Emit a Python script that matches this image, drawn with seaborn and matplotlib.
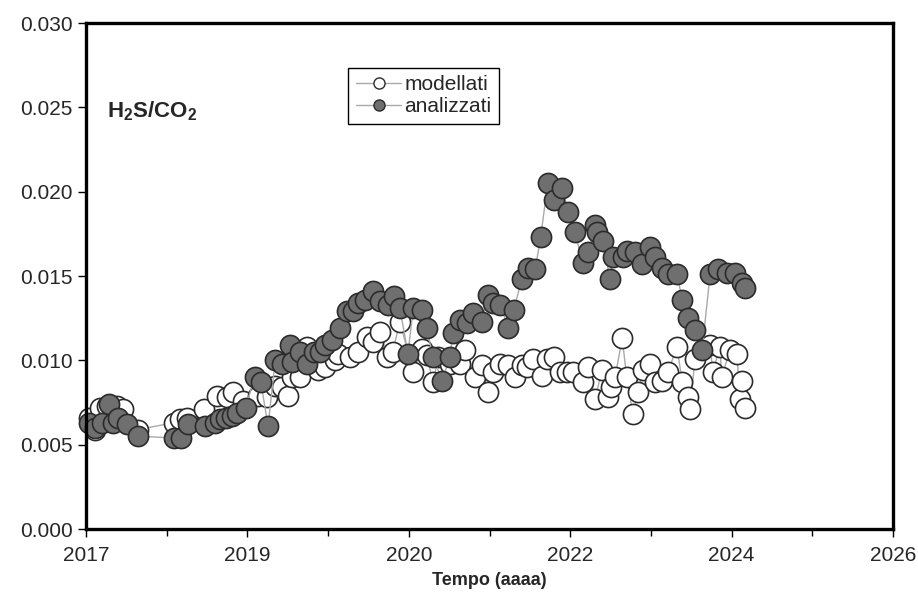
import numpy as np
import pandas as pd
import matplotlib
matplotlib.use('Agg')
import matplotlib.pyplot as plt
from matplotlib.lines import Line2D
from matplotlib.ticker import FixedLocator, FormatStrFormatter
import seaborn as sns

#%% data (x in axis years, y = H2S/CO2)
mod_t = [2017.03, 2017.10, 2017.16, 2017.23, 2017.35, 2017.41, 2017.58, 2017.98, 2018.05, 2018.13,
         2018.32, 2018.46, 2018.57, 2018.64, 2018.75, 2018.92, 2019.02, 2019.11, 2019.19, 2019.25,
         2019.30, 2019.39, 2019.46, 2019.59, 2019.67, 2019.78, 2019.81, 2019.94, 2020.03, 2020.13,
         2020.20, 2020.28, 2020.36, 2020.42, 2020.50, 2020.65, 2020.75, 2020.80, 2020.87, 2020.93,
         2021.06, 2021.17, 2021.23, 2021.34, 2021.42, 2021.48, 2021.54, 2021.62, 2021.71, 2021.78,
         2021.86, 2021.92, 2021.98, 2022.09, 2022.14, 2022.22, 2022.29, 2022.36, 2022.43, 2022.54,
         2022.60, 2022.68, 2022.75, 2022.82, 2022.86, 2022.90, 2022.98, 2023.03, 2023.10, 2023.16,
         2023.21, 2023.29, 2023.35, 2023.42, 2023.49, 2023.59, 2023.65, 2023.71, 2023.74, 2023.79,
         2023.96, 2023.99, 2024.07, 2024.09, 2024.18, 2024.26, 2024.29, 2024.32, 2024.35]
mod_v = [0.0066, 0.0059, 0.0072, 0.0073, 0.0073, 0.0071, 0.0059, 0.0063, 0.0065, 0.0066,
         0.0071, 0.0079, 0.0078, 0.0081, 0.0076, 0.0079, 0.0078, 0.0085, 0.0084, 0.0079,
         0.0090, 0.0090, 0.0108, 0.0094, 0.0096, 0.0100, 0.0104, 0.0102, 0.0105, 0.0114,
         0.0111, 0.0117, 0.0102, 0.0105, 0.0123, 0.0093, 0.0107, 0.0103, 0.0087, 0.0102,
         0.0098, 0.0098, 0.0106, 0.0090, 0.0097, 0.0081, 0.0093, 0.0098, 0.0097, 0.0090,
         0.0097, 0.0096, 0.0101, 0.0091, 0.0101, 0.0102, 0.0093, 0.0093, 0.0093, 0.0087,
         0.0096, 0.0077, 0.0094, 0.0078, 0.0084, 0.0090, 0.0113, 0.0090, 0.0068, 0.0081,
         0.0094, 0.0098, 0.0087, 0.0088, 0.0093, 0.0108, 0.0087, 0.0078, 0.0071, 0.0101,
         0.0109, 0.0093, 0.0108, 0.0090, 0.0106, 0.0104, 0.0077, 0.0088, 0.0072]

ana_t = [2017.03, 2017.10, 2017.18, 2017.26, 2017.30, 2017.36, 2017.46, 2017.58, 2017.98, 2018.06,
         2018.14, 2018.33, 2018.44, 2018.49, 2018.56, 2018.63, 2018.68, 2018.78, 2018.88, 2018.95,
         2019.03, 2019.11, 2019.19, 2019.27, 2019.30, 2019.39, 2019.46, 2019.54, 2019.61, 2019.67,
         2019.74, 2019.83, 2019.91, 2019.98, 2020.03, 2020.11, 2020.20, 2020.28, 2020.37, 2020.43,
         2020.50, 2020.59, 2020.65, 2020.75, 2020.80, 2020.87, 2020.97, 2021.06, 2021.09, 2021.17,
         2021.25, 2021.32, 2021.42, 2021.48, 2021.54, 2021.62, 2021.71, 2021.77, 2021.86, 2021.93,
         2022.01, 2022.07, 2022.15, 2022.22, 2022.31, 2022.38, 2022.45, 2022.54, 2022.60, 2022.68,
         2022.70, 2022.77, 2022.84, 2022.88, 2022.99, 2023.03, 2023.12, 2023.20, 2023.29, 2023.35,
         2023.42, 2023.49, 2023.59, 2023.65, 2023.71, 2023.79, 2023.87, 2023.96, 2024.05, 2024.15,
         2024.24, 2024.32, 2024.35]
ana_v = [0.0063, 0.0060, 0.0063, 0.0074, 0.0063, 0.0066, 0.0062, 0.0055, 0.0054, 0.0054,
         0.0062, 0.0061, 0.0063, 0.0065, 0.0066, 0.0067, 0.0069, 0.0072, 0.0090, 0.0087,
         0.0061, 0.0100, 0.0098, 0.0109, 0.0099, 0.0105, 0.0098, 0.0105, 0.0105, 0.0109,
         0.0112, 0.0119, 0.0129, 0.0129, 0.0134, 0.0136, 0.0141, 0.0135, 0.0133, 0.0138,
         0.0131, 0.0104, 0.0131, 0.0130, 0.0119, 0.0102, 0.0088, 0.0102, 0.0116, 0.0124,
         0.0122, 0.0128, 0.0123, 0.0139, 0.0134, 0.0133, 0.0119, 0.0130, 0.0148, 0.0155,
         0.0154, 0.0173, 0.0205, 0.0195, 0.0202, 0.0188, 0.0176, 0.0158, 0.0164, 0.0180,
         0.0176, 0.0171, 0.0148, 0.0161, 0.0161, 0.0165, 0.0164, 0.0157, 0.0167, 0.0161,
         0.0155, 0.0151, 0.0151, 0.0136, 0.0125, 0.0118, 0.0106, 0.0151, 0.0154, 0.0152,
         0.0152, 0.0146, 0.0143]

x_ticks = [2017, 2018.8, 2020.6, 2022.4, 2024.2, 2026]
x_ticklabels = ['2017', '2019', '2020', '2022', '2024', '2026']
y_ticks = [0.000, 0.005, 0.010, 0.015, 0.020, 0.025, 0.030]

df_mod = pd.DataFrame({'t': mod_t, 'v': mod_v})
df_ana = pd.DataFrame({'t': ana_t, 'v': ana_v})

#%% style
sns.set_style('ticks')
plt.rcParams['font.family'] = ['Liberation Sans', 'DejaVu Sans']
plt.rcParams['mathtext.fontset'] = 'custom'
plt.rcParams['mathtext.rm'] = 'Liberation Sans'
plt.rcParams['mathtext.bf'] = 'Liberation Sans:bold'

line_col = '#a9a9a9'
edge_col = '#2b2b2b'
grey_fill = '#6f6f6f'

fig = plt.figure(figsize=(9.18, 5.93), dpi=100)
ax = fig.add_axes([0.0937, 0.1079, 0.8791, 0.8533])

sns.lineplot(data=df_mod, x='t', y='v', ax=ax, estimator=None, sort=True,
             color=line_col, lw=1, marker='o', markersize=14.5, clip_on=False,
             markerfacecolor='white', markeredgecolor=edge_col, markeredgewidth=1.2, zorder=2)
sns.lineplot(data=df_ana, x='t', y='v', ax=ax, estimator=None, sort=True,
             color=line_col, lw=1, marker='o', markersize=14.5, clip_on=False,
             markerfacecolor=grey_fill, markeredgecolor=edge_col, markeredgewidth=1.2, zorder=3)

# axes and ticks
ax.set_xlim(2017, 2026)
ax.set_ylim(0, 0.030)
ax.set_xticks(x_ticks)
ax.set_xticklabels(x_ticklabels)
ax.xaxis.set_minor_locator(FixedLocator([(a + b) / 2 for a, b in zip(x_ticks[:-1], x_ticks[1:])]))
ax.set_yticks(y_ticks)
ax.yaxis.set_major_formatter(FormatStrFormatter('%.3f'))
ax.tick_params(axis='both', which='major', direction='out', length=6, width=1, labelsize=15, color='black')
ax.tick_params(axis='x', which='minor', direction='out', length=5, width=1, color='black')
ax.tick_params(axis='x', which='major', pad=6)
for s in ax.spines.values():
    s.set_linewidth(2.4)
    s.set_color('black')
    s.set_zorder(5)

ax.set_xlabel('Tempo (aaaa)', fontsize=13, fontweight='bold', labelpad=5)
ax.set_ylabel('')

ax.text(0.026, 0.825, r'$\mathbf{H_2S/CO_2}$', transform=ax.transAxes, fontsize=16,
        va='center', ha='left')

# legend
handles = [Line2D([], [], color=line_col, lw=1, marker='o', markersize=8,
                  markerfacecolor='white', markeredgecolor=edge_col, markeredgewidth=1),
           Line2D([], [], color=line_col, lw=1, marker='o', markersize=8,
                  markerfacecolor=grey_fill, markeredgecolor=edge_col, markeredgewidth=1)]
leg = ax.legend(handles, ['modellati', 'analizzati'], loc='upper left',
                bbox_to_anchor=(0.325, 0.911), borderaxespad=0, fontsize=15,
                frameon=True, fancybox=False, framealpha=1, edgecolor='black',
                handlelength=2.2, handletextpad=0.15, labelspacing=0.15, borderpad=0.35)
leg.get_frame().set_linewidth(1)

plt.savefig('out.png', dpi=100)
